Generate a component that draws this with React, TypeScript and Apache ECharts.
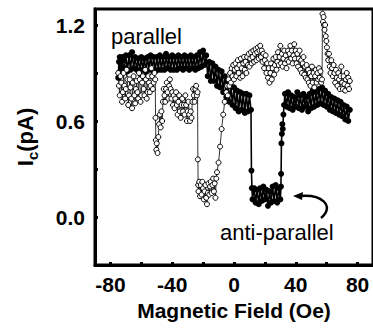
import React, { useEffect, useRef } from "react";
import * as echarts from "echarts";

// Filled circles: sweep that switches to the anti-parallel state at positive field
const filledSweep: [number, number][] = [
  [-75, 0.87], [-74.5, 0.97], [-74, 1.0], [-73.5, 0.9], [-73, 0.92], [-72.5, 1.0], [-72, 0.98], [-71.5, 0.91],
  [-71, 0.93], [-70, 1.01], [-69, 0.91], [-68, 1.01], [-67, 0.92], [-66, 1.03], [-65, 0.93], [-64, 1.0],
  [-63, 0.92], [-62, 0.99], [-61, 0.91], [-60, 1.0], [-59, 0.92], [-58, 0.99], [-57, 0.91], [-56, 1.0],
  [-55, 0.92], [-54, 1.01], [-53, 0.92], [-52, 1.0], [-51, 0.91], [-50, 1.0], [-49, 0.92], [-48, 1.01],
  [-47, 0.92], [-46, 1.0], [-45, 0.92], [-44, 1.02], [-43, 0.93], [-42, 1.0], [-41, 0.92], [-40, 1.01],
  [-39, 0.92], [-38, 1.0], [-37, 0.92], [-36, 1.01], [-35, 0.93], [-34, 1.0], [-33, 0.92], [-32, 1.01],
  [-31, 0.93], [-30, 1.0], [-29, 0.92], [-28, 1.01], [-27, 0.93], [-26, 1.0], [-25, 0.92], [-24, 1.01],
  [-23, 0.93], [-22, 1.03], [-21, 0.94], [-20, 1.04], [-19, 0.95], [-18, 1.01], [-17, 0.88], [-16, 0.97],
  [-15, 0.85], [-14, 0.96], [-13, 0.85], [-12, 0.94], [-11, 0.82], [-10, 0.92], [-9, 0.81], [-8, 0.91],
  [-7, 0.78], [-6, 0.88], [-5, 0.75], [-4, 0.85], [-3, 0.72], [-2, 0.82], [-1, 0.7], [0, 0.81],
  [1, 0.68], [2, 0.79], [3, 0.66], [4, 0.78], [5, 0.67], [6, 0.77], [7, 0.65], [8, 0.77],
  [9, 0.66], [10, 0.76], [11, 0.67],
  [11.3, 0.29], [11.6, 0.18], [12, 0.11], [13, 0.18], [14, 0.09], [15, 0.17], [16, 0.08], [17, 0.18],
  [18, 0.1], [19, 0.19], [20, 0.11], [21, 0.17], [22, 0.07], [23, 0.16], [24, 0.09], [25, 0.19],
  [26, 0.1], [27, 0.2], [28, 0.09], [29, 0.18], [30, 0.11], [30.4, 0.19],
  [30.5, 0.27], [30.7, 0.46], [31, 0.52], [31.3, 0.58], [31.6, 0.55], [32, 0.64], [32.4, 0.7],
  [33, 0.77], [34, 0.69], [35, 0.78], [36, 0.68], [37, 0.76], [38, 0.67], [39, 0.75], [40, 0.69],
  [41, 0.78], [42, 0.68], [43, 0.76], [44, 0.67], [45, 0.77], [46, 0.69], [47, 0.75], [48, 0.66],
  [49, 0.77], [50, 0.68], [51, 0.79], [52, 0.69], [53, 0.78], [54, 0.7], [55, 0.8], [56, 0.71],
  [57, 0.81], [58, 0.7], [59, 0.79], [60, 0.69], [61, 0.77], [62, 0.67], [63, 0.75], [64, 0.66],
  [65, 0.74], [66, 0.65], [67, 0.73], [68, 0.64], [69, 0.72], [70, 0.63], [71, 0.7], [72, 0.61],
  [73, 0.69], [74, 0.6], [75, 0.67],
];

// Open circles: sweep that switches at negative field
const openSweep: [number, number][] = [
  [-75, 0.9], [-74.5, 0.82], [-74, 0.76], [-73.5, 0.88], [-73, 0.84], [-72.5, 0.72], [-72, 0.78], [-71.5, 0.9],
  [-71, 0.82], [-70.5, 0.74], [-70, 0.8], [-69.5, 0.92], [-69, 0.86], [-68.5, 0.7], [-68, 0.76], [-67.5, 0.86],
  [-67, 0.81], [-66.5, 0.74], [-66, 0.68], [-65.5, 0.84], [-65, 0.88], [-64.5, 0.76], [-64, 0.71], [-63.5, 0.8],
  [-63, 0.85], [-62.5, 0.78], [-62, 0.74], [-61.5, 0.9], [-61, 0.86], [-60.5, 0.72], [-60, 0.76], [-59.5, 0.84],
  [-59, 0.88], [-58.5, 0.8], [-58, 0.76], [-57.5, 0.92], [-57, 0.86], [-56.5, 0.74], [-56, 0.78], [-55.5, 0.88],
  [-55, 0.84], [-54.5, 0.78], [-54, 0.82], [-53.5, 0.93], [-53, 0.88], [-52.5, 0.8], [-52, 0.84], [-51.5, 0.9],
  [-51, 0.86], [-50.8, 0.62], [-50.6, 0.48], [-50.3, 0.42], [-50, 0.46], [-49.5, 0.4], [-49, 0.5],
  [-48.5, 0.58], [-48, 0.64], [-47.5, 0.56], [-47, 0.66], [-46.5, 0.6], [-46, 0.72], [-45.5, 0.8], [-45, 0.76],
  [-44.5, 0.72], [-44, 0.8], [-43.5, 0.84], [-43, 0.78], [-42.5, 0.74], [-42, 0.82], [-41.5, 0.86], [-41, 0.8],
  [-40.5, 0.74], [-40, 0.78], [-39.5, 0.7], [-39, 0.76], [-38.5, 0.68], [-38, 0.74], [-37.5, 0.78], [-37, 0.7],
  [-36.5, 0.64], [-36, 0.72], [-35.5, 0.76], [-35, 0.66], [-34.5, 0.62], [-34, 0.7], [-33.5, 0.74], [-33, 0.66],
  [-32.5, 0.7], [-32, 0.64], [-31.5, 0.76], [-31, 0.7], [-30.5, 0.6], [-30, 0.66], [-29.5, 0.72], [-29, 0.64],
  [-28.5, 0.6], [-28, 0.66], [-27.5, 0.62], [-27, 0.72], [-26.5, 0.8], [-26, 0.76], [-25.5, 0.72], [-25, 0.8],
  [-24.5, 0.82], [-24, 0.76], [-23.6, 0.78],
  [-23.4, 0.36], [-23.2, 0.2], [-23, 0.16], [-22.5, 0.22], [-22, 0.13], [-21.5, 0.2], [-21, 0.14], [-20.5, 0.22],
  [-20, 0.18], [-19.5, 0.11], [-19, 0.16], [-18.5, 0.2], [-18, 0.12], [-17.5, 0.08], [-17, 0.15], [-16.5, 0.21],
  [-16, 0.14], [-15.5, 0.19], [-15, 0.22], [-14.5, 0.15], [-14, 0.2], [-13.5, 0.24], [-13, 0.16], [-12.5, 0.21],
  [-12, 0.12], [-11.5, 0.24], [-11, 0.28], [-10, 0.34], [-9, 0.44], [-8, 0.55], [-7, 0.64], [-6, 0.72],
  [-5, 0.78], [-4.5, 0.82], [-4, 0.76], [-3.5, 0.86], [-3, 0.82], [-2.5, 0.9], [-2, 0.84], [-1.5, 0.93],
  [-1, 0.88], [-0.5, 0.95], [0, 0.86], [0.5, 0.92], [1, 0.96], [1.5, 0.88], [2, 0.93], [2.5, 0.98],
  [3, 0.9], [3.5, 0.95], [4, 0.87], [4.5, 0.99], [5, 0.93], [5.5, 0.88], [6, 0.96], [6.5, 1.0],
  [7, 0.92], [7.5, 0.97], [8, 0.9], [8.5, 1.0], [9, 0.95], [9.5, 1.02], [10, 0.94], [10.5, 0.99],
  [11, 1.03], [11.5, 0.96], [12, 1.0], [12.5, 1.04], [13, 0.97], [13.5, 1.02], [14, 1.05], [14.5, 0.98],
  [15, 1.03], [15.5, 1.06], [16, 0.99], [16.5, 1.04], [17, 1.07], [17.5, 1.0], [18, 1.04], [18.5, 0.97],
  [19, 1.02], [19.5, 0.93], [20, 0.98], [20.5, 1.01], [21, 0.9], [21.5, 0.96], [22, 0.87], [22.5, 0.93],
  [23, 0.84], [23.5, 0.9], [24, 0.96], [24.5, 0.86], [25, 0.93], [25.5, 0.99], [26, 0.89], [26.5, 0.95],
  [27, 1.0], [27.5, 0.92], [28, 0.97], [28.5, 1.03], [29, 0.95], [29.5, 1.0], [30, 1.07], [30.5, 0.96],
  [31, 1.02], [31.5, 0.94], [32, 0.99], [32.5, 1.04], [33, 0.96], [33.5, 1.01], [34, 0.93], [34.5, 0.98],
  [35, 1.04], [35.5, 0.97], [36, 1.02], [36.5, 1.07], [37, 0.99], [37.5, 1.04], [38, 0.96], [38.5, 1.01],
  [39, 1.08], [39.5, 0.99], [40, 1.04], [40.5, 0.96], [41, 1.02], [41.5, 0.94], [42, 0.99], [42.5, 1.04],
  [43, 0.92], [43.5, 0.98], [44, 0.9], [44.5, 0.96], [45, 1.0], [45.5, 0.89], [46, 0.94], [46.5, 0.87],
  [47, 0.95], [47.5, 0.86], [48, 0.92], [48.5, 0.84], [49, 0.9], [49.5, 0.82], [50, 0.88], [50.5, 0.94],
  [51, 0.84], [51.5, 0.9], [52, 0.81], [52.5, 0.88], [53, 0.92], [53.5, 0.84], [54, 0.9], [54.5, 0.86],
  [55, 0.93], [55.5, 0.87], [56, 0.91], [56.5, 0.84], [57, 0.86],
  [57.3, 1.27], [57.6, 1.22], [58, 1.25], [58.3, 1.2], [58.6, 1.17], [59, 1.2], [59.4, 1.13], [59.8, 1.1],
  [60.2, 1.06], [60.6, 1.02], [61, 0.98], [61.5, 1.02], [62, 0.94], [62.5, 0.9], [63, 0.98], [63.5, 0.93],
  [64, 0.88], [64.5, 0.95], [65, 0.9], [65.5, 0.84], [66, 0.92], [66.5, 0.87], [67, 0.82], [67.5, 0.9],
  [68, 0.86], [68.5, 0.8], [69, 0.88], [69.5, 0.94], [70, 0.84], [70.5, 0.8], [71, 0.88], [71.5, 0.83],
  [72, 0.79], [72.5, 0.86], [73, 0.9], [73.5, 0.82], [74, 0.87], [74.5, 0.8], [75, 0.85],
];

const xTicks = [-80, -60, -40, -20, 0, 20, 40, 60, 80];
const xLabels = [-80, -40, 0, 40, 80];
const yTicks = [0, 0.3, 0.6, 0.9, 1.2];
const yLabels = [0, 0.6, 1.2];

const FONT = "'Liberation Sans', Arial, Helvetica, sans-serif";

export default function App() {
  const ref = useRef<HTMLDivElement>(null);

  useEffect(() => {
    if (!ref.current) return;
    const chart = echarts.init(ref.current, undefined, { renderer: "svg" });
    chart.setOption({
      animation: false,
      backgroundColor: "#fff",
      grid: {
        left: 95,
        right: -3,
        top: 9,
        bottom: 63,
        show: true,
        borderColor: "#000",
        borderWidth: 3,
      },
      xAxis: {
        type: "value",
        min: -90,
        max: 90,
        splitLine: { show: false },
        axisLine: { show: true, onZero: false, lineStyle: { color: "#000", width: 3 } },
        axisTick: {
          show: true,
          inside: true,
          length: 3,
          customValues: xTicks,
          lineStyle: { color: "#000", width: 3 },
        },
        axisLabel: {
          customValues: xLabels,
          margin: 9,
          color: "#000",
          fontFamily: FONT,
          fontWeight: "bold",
          fontSize: 21,
          formatter: (v: number) => String(v),
        },
        name: "Magnetic Field (Oe)",
        nameLocation: "middle",
        nameGap: 33,
        nameTextStyle: { color: "#000", fontFamily: FONT, fontWeight: "bold", fontSize: 21 },
      },
      yAxis: {
        type: "value",
        min: -0.3,
        max: 1.3,
        splitLine: { show: false },
        axisLine: { show: true, onZero: false, lineStyle: { color: "#000", width: 3 } },
        axisTick: {
          show: true,
          inside: true,
          length: 3,
          customValues: yTicks,
          lineStyle: { color: "#000", width: 3 },
        },
        axisLabel: {
          customValues: yLabels,
          margin: 10,
          color: "#000",
          fontFamily: FONT,
          fontWeight: "bold",
          fontSize: 21,
          formatter: (v: number) => v.toFixed(1),
        },
        name: "{a|I}{b|c}{a|(pA)}",
        nameLocation: "middle",
        nameGap: 55,
        nameTextStyle: {
          color: "#000",
          fontFamily: FONT,
          fontWeight: "bold",
          fontSize: 22,
          rich: {
            a: { fontFamily: FONT, fontWeight: "bold", fontSize: 22, color: "#000" },
            b: {
              fontFamily: FONT,
              fontWeight: "bold",
              fontSize: 15,
              color: "#000",
              padding: [14, 0, 0, 0],
            },
          },
        },
      },
      series: [
        {
          type: "line",
          data: filledSweep,
          symbol: "circle",
          symbolSize: 6,
          showAllSymbol: true,
          itemStyle: { color: "#000" },
          lineStyle: { color: "#000", width: 1.6 },
        },
        {
          type: "line",
          data: openSweep,
          symbol: "circle",
          symbolSize: 5,
          showAllSymbol: true,
          itemStyle: { color: "#fff", borderColor: "#000", borderWidth: 1 },
          lineStyle: { color: "#000", width: 0.8 },
        },
      ],
      graphic: [
        {
          type: "text",
          left: 111,
          top: 25,
          style: { text: "parallel", fill: "#000", font: `22px ${FONT}` },
        },
        {
          type: "text",
          left: 220,
          top: 221,
          style: { text: "anti-parallel", fill: "#000", font: `22px ${FONT}` },
        },
        {
          type: "bezierCurve",
          shape: { x1: 300, y1: 196, cpx1: 320, cpy1: 194, cpx2: 336, cpy2: 205, x2: 321, y2: 218 },
          style: { stroke: "#000", lineWidth: 2.5, fill: "none" },
        },
        {
          type: "polygon",
          shape: { points: [[293, 196], [303, 192], [302, 200]] },
          style: { fill: "#000" },
        },
      ],
    });
    return () => chart.dispose();
  }, []);

  return (
    <div
      ref={ref}
      style={{ position: "fixed", left: 0, top: 0, width: 373, height: 328, background: "#fff" }}
    />
  );
}
